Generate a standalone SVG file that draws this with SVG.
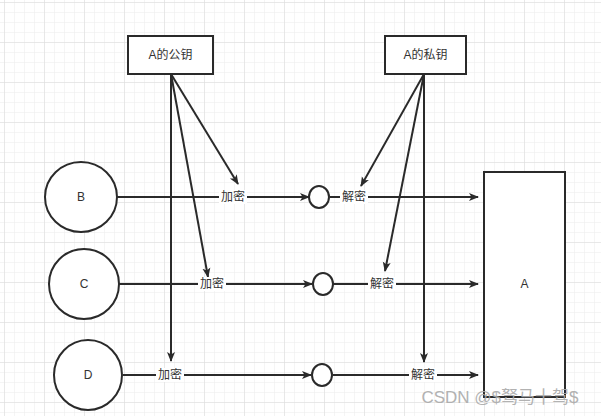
<svg xmlns="http://www.w3.org/2000/svg" width="601" height="416" viewBox="0 0 601 416">
<defs>
<pattern id="g" width="10" height="10" patternUnits="userSpaceOnUse" x="4" y="2"><path d="M10 0H0V10" fill="none" stroke="#ececec" stroke-width="1"/></pattern>
<pattern id="G" width="40" height="40" patternUnits="userSpaceOnUse" x="4" y="2"><path d="M40 0H0V40" fill="none" stroke="#dcdcdc" stroke-width="1"/></pattern>
<marker id="a" viewBox="0 0 10 10" refX="9" refY="5" markerWidth="10" markerHeight="10" markerUnits="userSpaceOnUse" orient="auto"><path d="M0 1L10 5L0 9L2.5 5Z" fill="#2a2a2a"/></marker>
</defs>
<style>
.s{fill:#fff;stroke:#2a2a2a;stroke-width:2}
.l{stroke:#2a2a2a;stroke-width:2;fill:none;marker-end:url(#a)}
text{font-family:"Liberation Sans","Noto Sans CJK SC",sans-serif;font-size:12px;fill:#333;text-anchor:middle;dominant-baseline:central}
.b{fill:#fff}
</style>
<rect width="601" height="416" fill="#fff"/>
<rect width="601" height="416" fill="url(#g)"/>
<rect width="601" height="416" fill="url(#G)"/>
<g id="connectors">
<path class="l" d="M171 74L238 184"/>
<path class="l" d="M171 74L208 277"/>
<path class="l" d="M171 74V361"/>
<path class="l" d="M424 74L361 186"/>
<path class="l" d="M424 74L385 271"/>
<path class="l" d="M424 74V362"/>
<path class="l" d="M117 197H309"/>
<path class="l" d="M330 197H478"/>
<path class="l" d="M119 284H312"/>
<path class="l" d="M333 284H478"/>
<path class="l" d="M123 375H311"/>
<path class="l" d="M333 375H478"/>
<rect class="b" x="219" y="190" width="28" height="14"/><text x="233" y="197">加密</text>
<rect class="b" x="340" y="190" width="28" height="14"/><text x="354" y="197">解密</text>
<rect class="b" x="198" y="277" width="28" height="14"/><text x="212" y="284">加密</text>
<rect class="b" x="368" y="277" width="28" height="14"/><text x="382" y="284">解密</text>
<rect class="b" x="156" y="368" width="28" height="14"/><text x="170" y="375">加密</text>
<rect class="b" x="409" y="368" width="28" height="14"/><text x="423" y="375">解密</text>
</g>
<g id="pub"><rect class="s" x="128" y="36" width="85" height="38"/><text x="170.5" y="55">A的公钥</text></g>
<g id="priv"><rect class="s" x="385" y="36" width="81" height="38"/><text x="425.5" y="55">A的私钥</text></g>
<g id="B"><ellipse class="s" cx="81" cy="197" rx="36" ry="35"/><text x="81" y="197">B</text></g>
<g id="C"><ellipse class="s" cx="84" cy="284" rx="35" ry="35"/><text x="84" y="284">C</text></g>
<g id="D"><ellipse class="s" cx="88" cy="375" rx="34" ry="35"/><text x="88" y="375">D</text></g>
<g id="A"><rect class="s" x="484" y="172" width="81" height="225"/><text x="524.5" y="284">A</text></g>
<g id="m1"><ellipse class="s" cx="319" cy="197" rx="10" ry="11"/></g>
<g id="m2"><ellipse class="s" cx="323" cy="284" rx="10" ry="11"/></g>
<g id="m3"><ellipse class="s" cx="322" cy="375" rx="10" ry="11"/></g>
<text x="500" y="397" style="font-size:17px;fill:#aaa;opacity:0.9">CSDN @$驽马十驾$</text>
</svg>
